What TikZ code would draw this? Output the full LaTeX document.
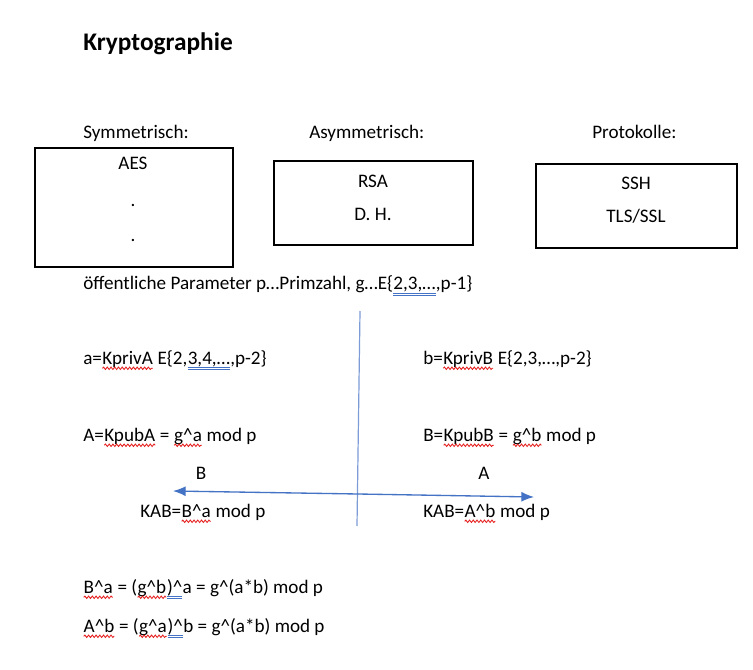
\documentclass[tikz,border=0pt]{standalone}
\usepackage{fontspec}
\setmainfont{Carlito}
\usetikzlibrary{arrows.meta,fit,decorations.pathmorphing}
\definecolor{wblue}{RGB}{68,114,196}
\definecolor{lblue}{RGB}{125,155,215}
\definecolor{sqred}{RGB}{230,30,30}
\newcommand\sq[1]{\tikz[baseline=(sqw.base)]{\node[inner sep=0pt,outer sep=0pt] (sqw) {#1};
  \draw[sqred, line width=0.65pt, decorate, decoration={snake, amplitude=0.9pt, segment length=2.8pt}] ([yshift=-3.2pt]sqw.base west) -- ([yshift=-3.2pt]sqw.base east);}}
\newcommand\dl[1]{\tikz[baseline=(dlw.base)]{\node[inner sep=0pt,outer sep=0pt] (dlw) {#1};
  \draw[wblue, line width=0.5pt] ([yshift=-2.2pt]dlw.base west) -- ([yshift=-2.2pt]dlw.base east)
     ([yshift=-3.7pt]dlw.base west) -- ([yshift=-3.7pt]dlw.base east);}}
\newcommand\ca{\textasciicircum}
\newcommand\bodyfont{\fontsize{14.35}{17}\selectfont}
\tikzset{
  txt/.style={anchor=base west, inner sep=0pt, font=\bodyfont},
  ctxt/.style={anchor=base, inner sep=0pt, font=\bodyfont},
  ttl/.style={anchor=base west, inner sep=0pt, font=\fontsize{19}{22}\selectfont\bfseries},
  boxx/.style={draw=black, line width=0.8pt, inner sep=0pt},
  arr/.style={draw=wblue, line width=1pt, -{Latex[length=9.5pt,width=7.5pt]}},
  vline/.style={draw=lblue, line width=0.9pt}
}
\begin{document}
\begin{tikzpicture}[x=0.75pt,y=-0.75pt]
\useasboundingbox[fill=white] (0,0) rectangle (753,670);
\node[ttl] (title) at (83,51) {Kryptographie};
\node[txt] (hsym) at (83,139) {Symmetrisch:};
\node[txt] (hasym) at (309,139) {Asymmetrisch:};
\node[txt] (hprot) at (592,139) {Protokolle:};
% boxes
\node[boxx, fit={(35,148) (233,267)}] (bsym) {};
\node[boxx, fit={(274,161) (473,245)}] (basym) {};
\node[boxx, fit={(536,164) (737,248)}] (bprot) {};
\node[ctxt] (aes) at (133,170) {AES};
\node[ctxt] (dot1) at (133,207) {.};
\node[ctxt] (dot2) at (133,242) {.};
\node[ctxt] (rsa) at (373,188) {RSA};
\node[ctxt] (dh) at (373,221) {D. H.};
\node[ctxt] (ssh) at (636,190) {SSH};
\node[ctxt] (tls) at (636,223) {TLS/SSL};
% parameters
\node[txt] (param) at (83,290) {öffentliche Parameter p…Primzahl, g…E\{\dl{2,3,…},p-1\}};
\node[txt] (ka) at (83,364) {a=\sq{KprivA} E\{2,\dl{3,4,…},p-2\}};
\node[txt] (kb) at (423,364) {b=\sq{KprivB} E\{2,3,…,p-2\}};
\node[txt] (pa) at (83,441) {A=\sq{KpubA} = \sq{g\ca a} mod p};
\node[txt] (pb) at (423,441) {B=\sq{KpubB} = \sq{g\ca b} mod p};
\node[ctxt] (lb) at (201,479) {B};
\node[ctxt] (la) at (484,479) {A};
\node[txt] (kab1) at (140,517) {KAB=\sq{B\ca a} mod p};
\node[txt] (kab2) at (423,517) {KAB=\sq{A\ca b} mod p};
\node[txt] (eq1) at (83,593) {\sq{B\ca a} = (\sq{g\ca b}\dl{)\ca}a = g\ca(a*b) mod p};
\node[txt] (eq2) at (83,632) {\sq{A\ca b} = (\sq{g\ca a}\dl{)\ca}b = g\ca(a*b) mod p};
% lines
\coordinate (vtop) at (360,311);
\coordinate (vbot) at (357,526);
\draw[vline] (vtop) -- (vbot);
\coordinate (mid) at (358,494);
\coordinate (tipl) at (173,491);
\coordinate (tipr) at (534,497);
\draw[arr] (mid) -- (tipl);
\draw[arr] (mid) -- (tipr);
\end{tikzpicture}
\end{document}
